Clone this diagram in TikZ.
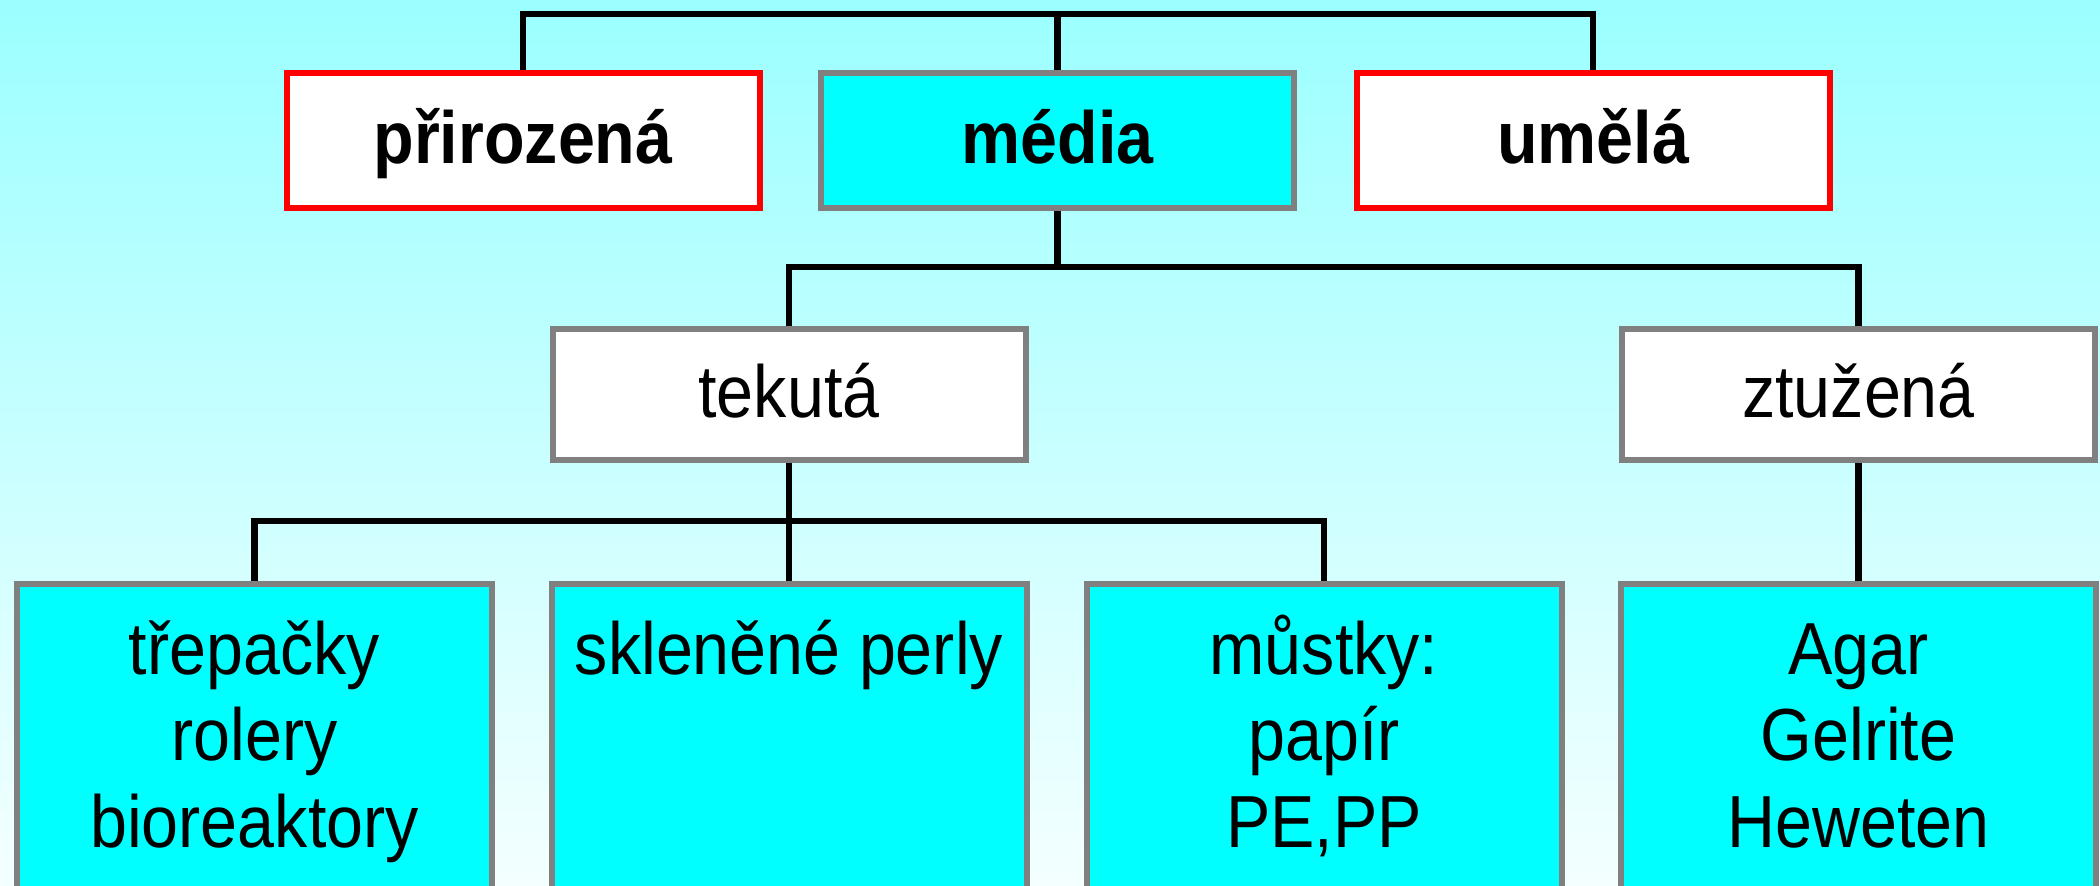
\documentclass[tikz,border=0pt]{standalone}
\usepackage{fontspec}
\setmainfont{Liberation Sans}[FakeStretch=0.9]
\definecolor{nentren}{RGB}{155,255,255}
\definecolor{nenduoi}{RGB}{244,255,255}
\definecolor{xanh}{RGB}{0,255,255}
\definecolor{xam}{RGB}{128,128,128}
\begin{document}
\begin{tikzpicture}[line width=0.65mm,
	hop/.style={line width=0.6mm, inner sep=0pt, minimum width=4.73cm, text height=0.6cm, text depth=0.15cm, font=\fontsize{21}{25}\selectfont},
	hopdo/.style={hop, draw=red, fill=white, minimum height=1.35cm, font=\fontsize{21}{25}\selectfont\bfseries},
	hopxanh/.style={hop, draw=xam, fill=xanh, minimum height=1.35cm, font=\fontsize{21}{25}\selectfont\bfseries},
	hoptrang/.style={hop, draw=xam, fill=white, minimum height=1.31cm},
	hopduoi/.style={hop, draw=xam, fill=xanh, anchor=north, minimum width=4.75cm, text height=0.9cm, text depth=4cm, font=\fontsize{21}{24.7}\selectfont}]
	\def\ytren{8.71} \def\yhai{6.18} \def\yba{3.64} % muc noi
	\useasboundingbox (0,0) rectangle (21,8.85);
	\clip (0,0) rectangle (21,8.85);
	\shade[top color=nentren, bottom color=nenduoi] (0,0) rectangle (21,8.85);
	\node[hopdo] (prirozena) at (5.23,7.445) {přirozená};
	\node[hopxanh] (media) at (10.575,7.445) {média};
	\node[hopdo] (umela) at (15.93,7.445) {umělá};
	\node[hoptrang] (tekuta) at (7.89,4.905) {tekutá};
	\node[hoptrang] (ztuzena) at (18.585,4.905) {ztužená};
	\node[hopduoi] (trepacky) at (2.545,3.04) {\begin{tabular}[t]{@{}c@{}}třepačky\\rolery\\bioreaktory\end{tabular}};
	\node[hopduoi] (perly) at (7.89,3.04) {skleněné perly};
	\node[hopduoi] (mustky) at (13.24,3.04) {\begin{tabular}[t]{@{}c@{}}můstky:\\papír\\PE,PP\end{tabular}};
	\node[hopduoi] (agar) at (18.585,3.04) {\begin{tabular}[t]{@{}c@{}}Agar\\Gelrite\\Heweten\end{tabular}};
	\coordinate (nut1) at (media.north |- 0,\ytren);
	\coordinate (nut2) at (media.south |- 0,\yhai);
	\coordinate (nut3) at (tekuta.south |- 0,\yba);
	\draw (prirozena.north) |- (nut1) -| (umela.north);
	\draw (media.north) -- (nut1);
	\draw (tekuta.north) |- (nut2) -| (ztuzena.north);
	\draw (media.south) -- (nut2);
	\draw (trepacky.north) |- (nut3) -| (mustky.north);
	\draw (tekuta.south) -- (perly.north);
	\draw (ztuzena.south) -- (agar.north);
\end{tikzpicture}
\end{document}
